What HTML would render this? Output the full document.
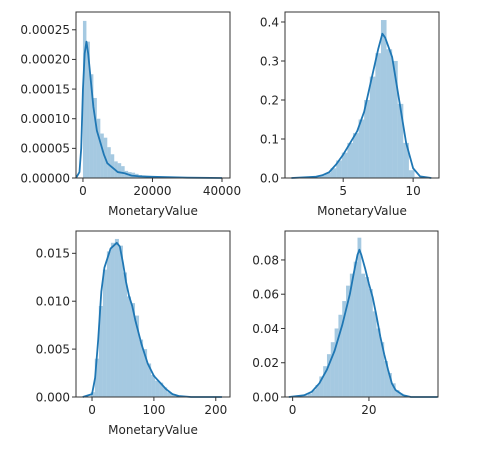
<!DOCTYPE html>
<html><head><meta charset="utf-8">
<style>
html,body{margin:0;padding:0;background:#fff;}
svg{display:block;}
text{font-family:"DejaVu Sans","Liberation Sans",sans-serif;font-size:12px;fill:#262626;}
</style></head>
<body>
<svg id="fig" width="493" height="451" viewBox="0 0 493 451" xmlns="http://www.w3.org/2000/svg"></svg>
<script>
// Panel 1 (top-left): MonetaryValue raw
const p1BinStart = 0, p1BinWidth = 1000;
const p1Hist = [0.000265,0.00023,0.000175,0.000135,0.0001,0.000075,0.000068,0.000052,0.00004,0.000028,0.000025,0.00002,0.000012,0.00001,0.000009,0.000007,0.000005,0.000004,0.000003,0.000003,0.000002,0.000002,0.000001,0.000001,0.000001,0.000001,0.0000005,0.0000005,0.0000005,0.0000005,0.0000003,0.0000003,0.0000003,0.0000003,0.0000002,0.0000002,0.0000002,0.0000002,0.0000002,0.0000002];
const p1KdeX = [-2000,-1000,-500,0,500,1000,1500,2000,3000,4000,5000,6000,7000,8000,9000,10000,12000,14000,16000,20000,30000,40000];
const p1KdeY = [0,0.00001,0.00005,0.00015,0.00021,0.00023,0.00021,0.00018,0.00012,0.00008,0.00006,0.00004,0.000025,0.00002,0.000015,0.00001,0.000008,0.000004,0.000003,0.000002,0.0000005,0];
const p1XTicks = [0,20000,40000];
const p1YTicks = [0,0.00005,0.0001,0.00015,0.0002,0.00025];
const p1YLabels = ["0.00000","0.00005","0.00010","0.00015","0.00020","0.00025"];

// Panel 2 (top-right): log MonetaryValue
const p2BinStart = 1.3, p2BinWidth = 0.4;
const p2Hist = [0.001,0,0.001,0.002,0.003,0.007,0.013,0.025,0.045,0.065,0.09,0.115,0.15,0.2,0.26,0.32,0.405,0.33,0.3,0.19,0.09,0.02,0.003,0.001,0.001];
const p2KdeX = [1.3,3,3.5,4,4.5,5,5.5,6,6.5,7,7.5,7.8,8,8.5,9,9.5,10,10.5,11.3];
const p2KdeY = [0,0.003,0.007,0.015,0.035,0.06,0.09,0.12,0.17,0.25,0.33,0.37,0.36,0.31,0.2,0.09,0.025,0.004,0];
const p2XTicks = [5,10];
const p2YTicks = [0,0.1,0.2,0.3,0.4];
const p2YLabels = ["0.0","0.1","0.2","0.3","0.4"];

// Panel 3 (bottom-left)
const p3BinStart = -2, p3BinWidth = 6.5;
const p3Hist = [0.0005,0.004,0.0095,0.0133,0.0152,0.0161,0.0165,0.0158,0.013,0.0105,0.0098,0.0085,0.006,0.005,0.0035,0.0023,0.0017,0.0015,0.001,0.0005,0.0003,0.0002,0.0001,0.00005,0.00005,0.00003,0.00002,0.00001,0.00001,0,0,0,0.00001];
const p3KdeX = [-15,0,5,10,15,20,30,40,45,50,55,60,65,70,80,90,100,110,120,130,140,160,210];
const p3KdeY = [0,0.0003,0.002,0.006,0.011,0.0135,0.0155,0.0161,0.0157,0.014,0.012,0.0105,0.0095,0.008,0.0055,0.0035,0.0022,0.0015,0.0008,0.0003,0.0001,0,0];
const p3XTicks = [0,100,200];
const p3YTicks = [0,0.005,0.01,0.015];
const p3YLabels = ["0.000","0.005","0.010","0.015"];

// Panel 4 (bottom-right)
const p4BinStart = 0, p4BinWidth = 1;
const p4Hist = [0.0005,0.0005,0.001,0.001,0.002,0.004,0.007,0.012,0.018,0.025,0.032,0.04,0.048,0.056,0.065,0.072,0.079,0.093,0.072,0.07,0.063,0.05,0.04,0.032,0.021,0.014,0.008,0.004,0.002,0.001,0.0005,0,0,0,0,0,0.0002];
const p4KdeX = [-1,3,5,7,9,11,13,15,16,17,17.5,18,19,20,21,22,23,24,25,26,27,29,31,38];
const p4KdeY = [0,0.001,0.003,0.008,0.016,0.027,0.042,0.06,0.072,0.083,0.086,0.083,0.075,0.066,0.058,0.047,0.035,0.025,0.016,0.008,0.004,0.001,0,0];
const p4XTicks = [0,20];
const p4YTicks = [0,0.02,0.04,0.06,0.08];
const p4YLabels = ["0.00","0.02","0.04","0.06","0.08"];

const NS = "http://www.w3.org/2000/svg";
const fig = document.getElementById('fig');
function mk(tag, attrs, parent){
  const e = document.createElementNS(NS, tag);
  for (const k in attrs) e.setAttribute(k, attrs[k]);
  (parent||fig).appendChild(e);
  return e;
}

function panel(name, box, xdom, ydom, binStart, binWidth, hist, kx, ky, xt, yt, yl, xlabel){
  const g = mk('g', {});
  
  
  const sx = v => box.l + (v - xdom[0]) / (xdom[1] - xdom[0]) * (box.r - box.l);
  const sy = v => box.b - (v - ydom[0]) / (ydom[1] - ydom[0]) * (box.b - box.t);
  hist.forEach((h, i) => {
    const x0 = sx(binStart + i * binWidth), x1 = sx(binStart + (i + 1) * binWidth);
    const y = sy(h);
    const r = mk('rect', {x: x0, y: y, width: Math.max(0, x1 - x0), height: Math.max(0, box.b - y), fill: '#1f77b4', 'fill-opacity': 0.4}, g);
    
    
  });
  const d = kx.map((x, i) => (i ? 'L' : 'M') + sx(x).toFixed(2) + ',' + sy(ky[i]).toFixed(2)).join(' ');
  const p = mk('path', {d: d, fill: 'none', stroke: '#1f77b4', 'stroke-width': 1.8, 'stroke-linejoin': 'round'}, g);
  
  
  const fr = mk('rect', {x: box.l, y: box.t, width: box.r - box.l, height: box.b - box.t, fill: 'none', stroke: '#333', 'stroke-width': 1}, g);
  
  
  xt.forEach(v => {
    const x = sx(v);
    mk('line', {x1: x, x2: x, y1: box.b, y2: box.b + 4, stroke: '#333', 'stroke-width': 1}, g);
    const t = mk('text', {x: x, y: box.b + 17, 'text-anchor': 'middle'}, g);
    t.textContent = String(v);
    
    
  });
  yt.forEach((v, i) => {
    const y = sy(v);
    mk('line', {x1: box.l - 4, x2: box.l, y1: y, y2: y, stroke: '#333', 'stroke-width': 1}, g);
    const t = mk('text', {x: box.l - 6, y: y + 4.3, 'text-anchor': 'end'}, g);
    t.textContent = yl[i];
    
    
  });
  if (xlabel) {
    const t = mk('text', {x: (box.l + box.r) / 2, y: box.b + 37, 'text-anchor': 'middle'}, g);
    t.textContent = xlabel;
    
    
  }
}

panel('panel-top-left', {l:76, r:230, t:12, b:178}, [-2000, 42300], [0, 0.00028], p1BinStart, p1BinWidth, p1Hist, p1KdeX, p1KdeY, p1XTicks, p1YTicks, p1YLabels, 'MonetaryValue');
panel('panel-top-right', {l:285, r:439, t:12, b:178}, [0.84, 11.85], [0, 0.4256], p2BinStart, p2BinWidth, p2Hist, p2KdeX, p2KdeY, p2XTicks, p2YTicks, p2YLabels, 'MonetaryValue');
panel('panel-bottom-left', {l:76, r:230, t:231, b:397}, [-25.9, 223], [0, 0.01733], p3BinStart, p3BinWidth, p3Hist, p3KdeX, p3KdeY, p3XTicks, p3YTicks, p3YLabels, 'MonetaryValue');
panel('panel-bottom-right', {l:285, r:438, t:231, b:397}, [-2.0, 38.1], [0, 0.0969], p4BinStart, p4BinWidth, p4Hist, p4KdeX, p4KdeY, p4XTicks, p4YTicks, p4YLabels, null);
</script>
</body></html>
